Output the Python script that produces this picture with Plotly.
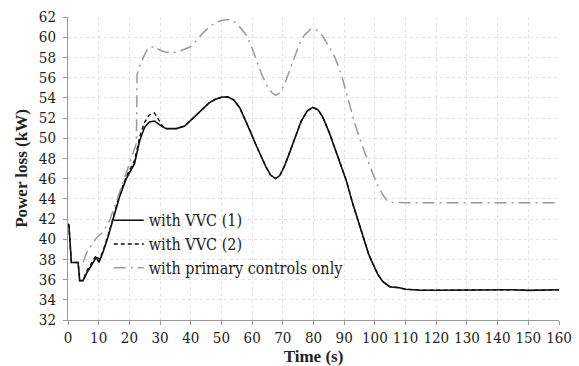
import plotly.graph_objects as go

# Time (s) and power loss (kW) for each series
t_vvc1 = [0, 0.3, 1.1, 3.3, 3.8, 4.9, 6.0, 7.0, 8.1, 9.2, 10.1, 11.4, 13, 14.7, 16.8, 19, 21.7, 22.5,
          23.4, 25, 26.5, 28.2, 30, 32, 35.3, 38, 40, 42, 44, 46, 48, 50, 52, 54, 56, 58, 59.5, 61, 63,
          64.6, 66, 67.7, 69, 70.5, 72, 74.4, 76, 78, 79.8, 81.5, 83, 85.2, 87, 89, 90.7, 92.8, 94.5,
          96.1, 98, 99.3, 101, 102.6, 104.8, 106, 108, 110, 115, 120, 125, 130, 135, 140, 145, 150, 155, 160]
p_vvc1 = [41.5, 41.4, 37.7, 37.7, 35.9, 35.9, 36.6, 37.1, 37.6, 38.2, 37.7, 38.7, 40.2, 42.0, 44.2, 46.0, 47.5, 48.6,
          49.8, 51.1, 51.6, 51.7, 51.3, 50.95, 50.95, 51.2, 51.8, 52.4, 53.0, 53.5, 53.85, 54.05, 54.1, 53.8, 53.0, 51.7, 50.6, 49.5, 48.1,
          47.1, 46.35, 46.0, 46.3, 47.2, 48.4, 50.4, 51.7, 52.7, 53.05, 52.8, 52.1, 50.5, 49.0, 47.2, 45.8, 43.5, 41.8,
          40.2, 38.5, 37.6, 36.5, 35.8, 35.3, 35.25, 35.2, 35.05, 34.95, 34.95, 34.97, 35.0, 35.02, 35.05, 35.0, 34.93, 35.0, 35.0]

t_vvc2 = [0, 0.3, 1.1, 3.3, 3.8, 4.9, 6.0, 7.0, 8.1, 9.2, 10.1, 11.4, 13, 14.7, 16.8, 19, 21.7, 22.5,
          23.4, 25, 26.5, 28.2, 30, 31, 32, 35.3, 38, 40, 42, 44, 46, 48, 50, 52, 54, 56, 58, 59.5, 61, 63,
          64.6, 66, 67.7, 69, 70.5, 72, 74.4, 76, 78, 79.8, 81.5, 83, 85.2, 87, 89, 90.7, 92.8, 94.5,
          96.1, 98, 99.3, 101, 102.6, 104.8, 106, 108, 110, 115, 120, 125, 130, 135, 140, 145, 150, 155, 160]
p_vvc2 = [41.5, 41.4, 37.7, 37.7, 35.9, 35.9, 36.8, 37.3, 37.9, 38.4, 38.0, 38.8, 40.3, 42.1, 44.4, 46.2, 47.8, 48.9,
          50.2, 51.6, 52.3, 52.5, 51.6, 51.1, 50.95, 50.95, 51.2, 51.8, 52.4, 53.0, 53.5, 53.85, 54.05, 54.1, 53.8, 53.0, 51.7, 50.6, 49.5, 48.1,
          47.1, 46.35, 46.0, 46.3, 47.2, 48.4, 50.4, 51.7, 52.7, 53.05, 52.8, 52.1, 50.5, 49.0, 47.2, 45.8, 43.5, 41.8,
          40.2, 38.5, 37.6, 36.5, 35.8, 35.3, 35.25, 35.2, 35.05, 34.95, 34.95, 34.97, 35.0, 35.02, 35.05, 35.0, 34.93, 35.0, 35.0]

t_prim = [4.9, 6, 7.6, 9.2, 11.4, 13.6, 16.3, 19, 21, 22.3, 22.5, 23.2, 24.4, 26, 28.2, 30, 32, 35.3, 39.6, 42,
          43.9, 46, 48, 50, 52.1, 54, 56, 58.1, 60, 61.4, 63, 65, 66.5, 67.7, 69, 70.5, 72.2, 74, 75.5, 77,
          79.3, 81, 83, 85.2, 87, 89, 91.7, 93.5, 95.6, 97.5, 99.3, 101, 102.6, 104, 105, 110, 120, 130, 140, 150, 160]
p_prim = [37.7, 38.6, 39.4, 40.1, 40.7, 41.9, 44.2, 46.5, 48.3, 49.5, 56.3, 57.0, 57.9, 58.9, 59.1, 58.7, 58.5, 58.5, 59.0, 59.7,
          60.4, 61.0, 61.45, 61.65, 61.75, 61.6, 61.0, 60.2, 58.9, 57.7, 56.4, 55.1, 54.5, 54.25, 54.5, 55.3, 56.7, 58.3, 59.4, 60.2,
          60.85, 60.7, 60.1, 59.0, 58.0, 56.4, 53.3, 51.4, 49.5, 47.9, 46.5, 45.3, 44.4, 43.8, 43.65, 43.6, 43.6, 43.6, 43.6, 43.6, 43.6]

x_ticks = list(range(0, 161, 10))
y_ticks = list(range(32, 63, 2))

FONT_B = "Liberation Serif, serif"
FONT = "DejaVu Serif Condensed, DejaVu Serif, serif"

fig = go.Figure()
fig.add_trace(go.Scatter(x=t_vvc1, y=p_vvc1, mode="lines", name="with VVC (1)",
                         line=dict(color="#111111", width=1.6)))
fig.add_trace(go.Scatter(x=t_vvc2, y=p_vvc2, mode="lines", name="with VVC (2)",
                         line=dict(color="#111111", width=1.4, dash="4px,3px")))
fig.add_trace(go.Scatter(x=t_prim, y=p_prim, mode="lines", name="with primary controls only",
                         line=dict(color="#9a9a9a", width=1.5, dash="12px,5px,2px,5px")))

fig.update_layout(
    width=579, height=366,
    margin=dict(l=68, r=20, t=17, b=46),
    paper_bgcolor="white", plot_bgcolor="white",
    font=dict(family=FONT, size=15, color="#222222"),
    showlegend=True,
    legend=dict(x=0.083, y=0.385, xanchor="left", yanchor="top",
                bgcolor="rgba(0,0,0,0)", font=dict(family=FONT, size=16, color="#222222"),
                tracegroupgap=0),
    xaxis=dict(range=[0, 160], tickvals=x_ticks, ticktext=[str(v) for v in x_ticks],
               automargin=False,
               showgrid=True, gridcolor="#e2e2e2", griddash="dot", gridwidth=1,
               showline=True, linecolor="#999999", linewidth=1,
               ticks="outside", ticklen=4, tickcolor="#999999",
               zeroline=False,
               title=dict(text="<b>Time (s)</b>", font=dict(family=FONT_B, size=17), standoff=3),
               tickfont=dict(family=FONT, size=15)),
    yaxis=dict(range=[32, 62], tickvals=y_ticks, ticktext=[str(v) for v in y_ticks],
               automargin=False,
               showgrid=True, gridcolor="#e2e2e2", griddash="dot", gridwidth=1,
               showline=True, linecolor="#999999", linewidth=1,
               ticks="outside", ticklen=4, tickcolor="#999999", ticklabelstandoff=4,
               zeroline=False,
               title=dict(text="<b>Power loss (kW)</b>", font=dict(family=FONT_B, size=17), standoff=6),
               tickfont=dict(family=FONT, size=15)),
)

fig.write_html("out.html")
